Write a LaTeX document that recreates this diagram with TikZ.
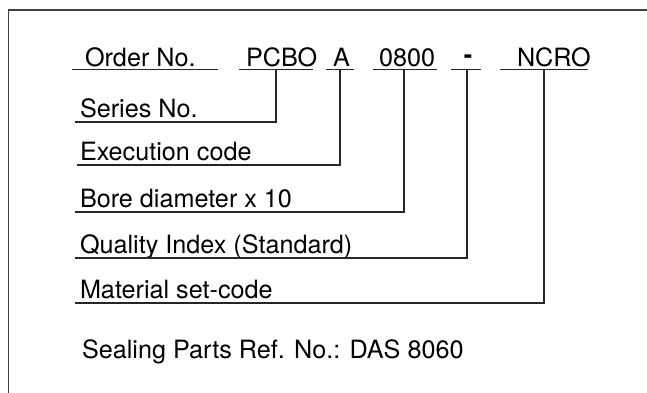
\documentclass[tikz,border=0pt]{standalone}
\usepackage{fontspec}
\setmainfont{TeX Gyre Heros}
\begin{document}
\begin{tikzpicture}[x=1pt,y=-1pt,
  lbl/.style={anchor=base west,inner sep=0pt,outer sep=0pt,font=\fontsize{25.2}{30}\selectfont,text=black},
  uline/.style={draw=black!85,line width=1.1pt},
  frameline/.style={draw=black!75,line width=1.6pt}]
\useasboundingbox (0,0) rectangle (647,392);
\fill[white] (0,0) rectangle (647,392);
% frame
\draw[frameline] (8.5,400) -- (8.5,10) -- (660,10);
% header texts
\node[lbl] (ord) at (85,66) {Order No.};
\node[lbl] (pcbo) at (246,66) {PCBO};
\node[lbl] (a) at (333,66) {A};
\node[lbl] (bore) at (379,66) {0800};
\node[lbl,anchor=center,font=\fontsize{25.2}{30}\selectfont\bfseries] (dash) at (468,59.5) {-};
\node[lbl] (ncro) at (517,66) {NCRO};
% header underlines
\coordinate (ordL) at (72,69.5);   \coordinate (ordR) at (218,69.5);
\coordinate (pcL) at (239,69.5);   \coordinate (pcR) at (313,69.5);
\coordinate (aL) at (326,69.5);    \coordinate (aR) at (354,69.5);
\coordinate (bL) at (373,69.5);    \coordinate (bR) at (437,69.5);
\coordinate (dL) at (451,69.5);    \coordinate (dR) at (481,69.5);
\coordinate (nL) at (500,69.5);    \coordinate (nR) at (588,69.5);
\draw[uline] (ordL) -- (ordR);
\draw[uline] (pcL) -- (pcR);
\draw[uline] (aL) -- (aR);
\draw[uline] (bL) -- (bR);
\draw[uline] (dL) -- (dR);
\draw[uline] (nL) -- (nR);
% tap points
\coordinate (pcT) at (276,69.5);
\coordinate (aT) at (340,69.5);
\coordinate (bT) at (404,69.5);
\coordinate (dT) at (467,69.5);
\coordinate (nT) at (544,69.5);
% descriptions
\node[lbl] (ser) at (80,117) {Series No.};
\node[lbl] (exe) at (80,160) {Execution code};
\node[lbl] (dia) at (80,207) {Bore diameter x 10};
\node[lbl] (qua) at (80,253) {Quality Index (Standard)};
\node[lbl] (mat) at (80,298) {Material set-code};
\coordinate (serL) at (75,122);
\coordinate (exeL) at (77,165);
\coordinate (diaL) at (75,212);
\coordinate (quaL) at (75,258);
\coordinate (matL) at (75,303);
\draw[uline] (pcT) |- (serL);
\draw[uline] (aT) |- (exeL);
\draw[uline] (bT) |- (diaL);
\draw[uline] (dT) |- (quaL);
\draw[uline] (nT) |- (matL);
% footer
\node[lbl] (seal) at (82,358) {Sealing Parts Ref. No.: DAS 8060};
\end{tikzpicture}
\end{document}
